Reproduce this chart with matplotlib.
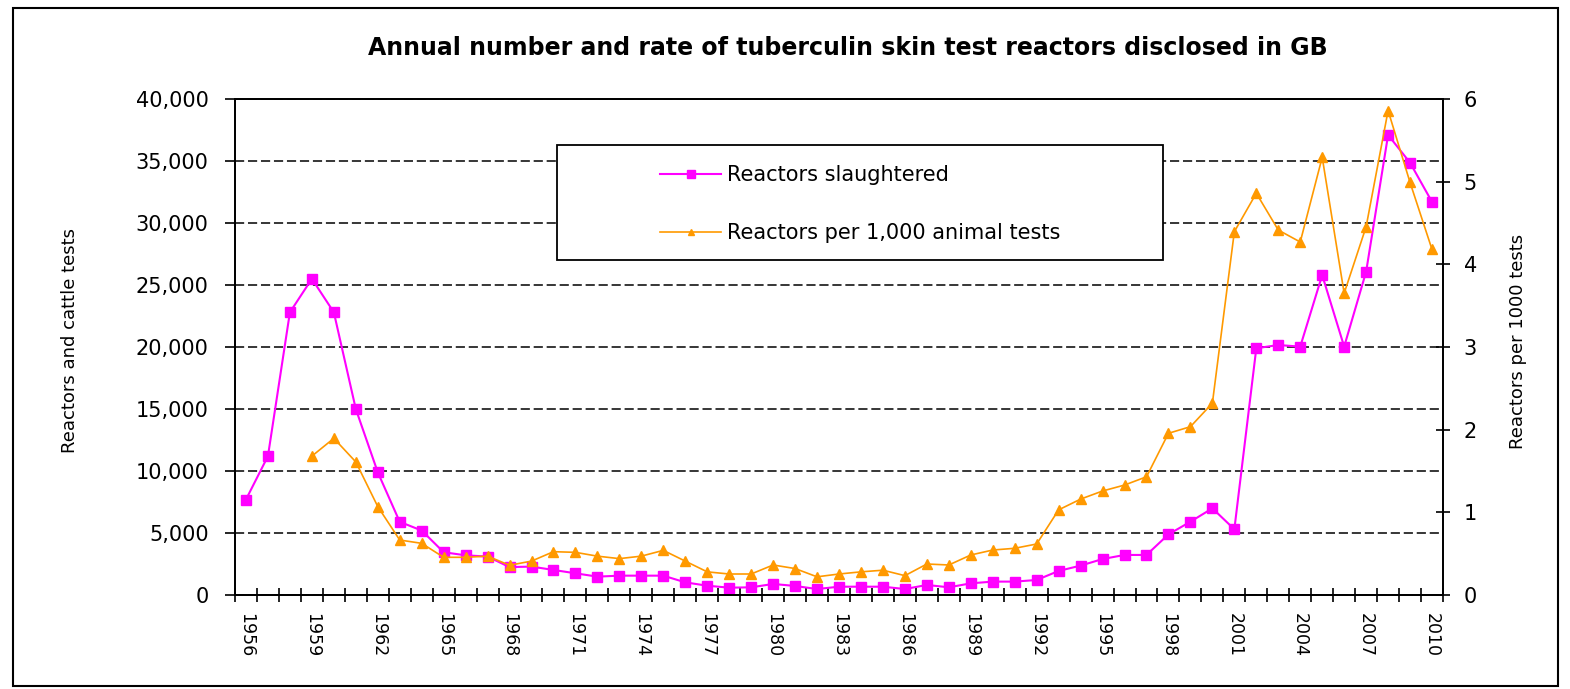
import numpy as np
import matplotlib
matplotlib.use('Agg')
import matplotlib.pyplot as plt
from matplotlib.patches import Rectangle
from matplotlib.ticker import StrMethodFormatter

# data
years = list(range(1956, 2011))
slaughtered = [7700, 11200, 22800, 25500, 22800, 15000, 9900, 5900, 5200, 3450,
               3200, 3100, 2250, 2290, 2020, 1750, 1480, 1560, 1560, 1560,
               1020, 750, 590, 620, 890, 730, 480, 670, 670, 670,
               480, 810, 620, 940, 1080, 1080, 1210, 1940, 2370, 2900,
               3230, 3230, 4890, 5910, 6990, 5300, 19900, 20160, 20030, 25800,
               20030, 26070, 37100, 34860, 31700]
rate = [np.nan, np.nan, np.nan, 1.68, 1.895, 1.61, 1.07, 0.665, 0.625, 0.456,
        0.456, 0.47, 0.36, 0.41, 0.524, 0.516, 0.47, 0.44, 0.47, 0.54,
        0.41, 0.28, 0.254, 0.254, 0.363, 0.32, 0.22, 0.254, 0.28, 0.30,
        0.234, 0.375, 0.363, 0.484, 0.544, 0.565, 0.617, 1.03, 1.16, 1.258,
        1.33, 1.43, 1.956, 2.036, 2.32, 4.395, 4.86, 4.415, 4.27, 5.295,
        3.65, 4.455, 5.86, 4.99, 4.18]
left_ticks = [0, 5000, 10000, 15000, 20000, 25000, 30000, 35000, 40000]
right_ticks = [0, 1, 2, 3, 4, 5, 6]

W, H = 1570, 689
fig = plt.figure(figsize=(W / 100, H / 100), dpi=100)
ax = fig.add_axes([235 / W, 1 - 595 / H, (1443 - 235) / W, (595 - 99) / H])
ax2 = ax.twinx()

x = np.arange(len(years))
ax.plot(x, slaughtered, color='#FF00FF', lw=1.5, marker='s', ms=7,
        label='Reactors slaughtered', zorder=3)
ax2.plot(x, rate, color='#FF9900', lw=1.2, marker='^', ms=6.5,
         label='Reactors per 1,000 animal tests', zorder=3)

ax.set_xlim(-0.5, len(years) - 0.5)
ax.set_ylim(0, 40000)
ax2.set_ylim(0, 6)

ax.set_yticks(left_ticks)
ax.yaxis.set_major_formatter(StrMethodFormatter('{x:,.0f}'))
ax2.set_yticks(right_ticks)

ax.set_xticks(x[::3])
ax.set_xticklabels([str(y) for y in years[::3]])
ax.set_xticks(np.arange(-0.5, len(years), 1), minor=True)
ax.tick_params(axis='x', which='major', length=0, pad=13, labelrotation=270, labelsize=12.5)
ax.tick_params(axis='x', which='minor', direction='inout', length=10, width=1.2)
ax.tick_params(axis='y', direction='out', length=7, width=1.2, pad=12, labelsize=15)
ax2.tick_params(axis='y', direction='inout', length=10, width=1.2, pad=10, labelsize=15)

ax.yaxis.grid(True, linestyle=(0, (6, 2.5)), color='black', lw=1.1)
ax.set_axisbelow(True)
for a in (ax, ax2):
    for s in a.spines.values():
        s.set_linewidth(1.3)

# legend box
fig.patches.append(Rectangle((557 / W, 1 - 260 / H), (1163 - 557) / W, (260 - 145) / H,
                             transform=fig.transFigure, facecolor='white',
                             edgecolor='black', lw=1.3, zorder=4))
h1, l1 = ax.get_legend_handles_labels()
h2, l2 = ax2.get_legend_handles_labels()
leg = fig.legend(h1 + h2, l1 + l2, loc='upper left', bbox_to_anchor=(650 / W, 1 - 155 / H),
                 bbox_transform=fig.transFigure, frameon=False, fontsize=15,
                 borderpad=0, handlelength=2.9, handletextpad=0.3, labelspacing=1.8,
                 markerscale=0.75)
leg.set_zorder(6)

# outer frame
fig.patches.append(Rectangle((13 / W, 1 - 686 / H), (1558 - 13) / W, (686 - 8) / H,
                             transform=fig.transFigure, fill=False,
                             edgecolor='black', lw=1.5, zorder=1))

fig.text(848 / W, 1 - 48 / H, 'Annual number and rate of tuberculin skin test reactors disclosed in GB',
         ha='center', va='center', fontsize=17, fontweight='bold')
fig.text(70 / W, 1 - 340 / H, 'Reactors and cattle tests', rotation=90,
         ha='center', va='center', fontsize=13)
fig.text(1518 / W, 1 - 341 / H, 'Reactors per 1000 tests', rotation=90,
         ha='center', va='center', fontsize=13)

fig.savefig('out.png', dpi=100)
